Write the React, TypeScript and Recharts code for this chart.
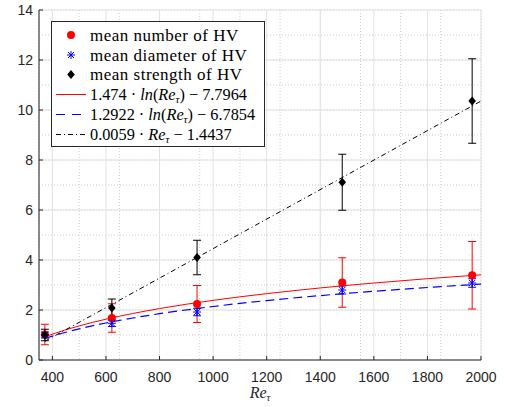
import { ComposedChart, Scatter, Line, XAxis, YAxis, CartesianGrid, ErrorBar } from 'recharts';

// Re_tau positions of the five cases
const reTau = [372, 622, 940, 1482, 1967];

// mean number of HV (+/- std)
const numberMean = [1.02, 1.68, 2.24, 3.1, 3.39];
const numberStd = [0.41, 0.57, 0.74, 0.99, 1.35];

// mean diameter of HV
const diameterMean = [1.0, 1.47, 1.92, 2.8, 3.08];
const diameterStd = [0.12, 0.13, 0.15, 0.16, 0.17];

// mean strength of HV
const strengthMean = [1.0, 2.08, 4.1, 7.11, 10.36];
const strengthStd = [0.23, 0.36, 0.69, 1.12, 1.69];

// fit curves
const fitX = [372, 450, 500, 600, 700, 800, 1000, 1200, 1400, 1600, 1800, 2000];
const fitNumber = [0.928, 1.209, 1.364, 1.633, 1.86, 2.057, 2.386, 2.654, 2.882, 3.079, 3.252, 3.407];
const fitDiameter = [0.863, 1.109, 1.245, 1.481, 1.68, 1.852, 2.141, 2.376, 2.576, 2.748, 2.9, 3.037];
const fitStrengthX = [372, 2000];
const fitStrength = [0.751, 10.356];

const xTicks = [400, 600, 800, 1000, 1200, 1400, 1600, 1800, 2000];
const yTicks = [0, 2, 4, 6, 8, 10, 12, 14];

const minorX: number[] = [];
for (let v = 350; v <= 2000; v += 50) minorX.push(v);
const minorY: number[] = [];
for (let v = 0; v <= 14; v += 0.5) minorY.push(v);

const withErr = (ys: number[], es: number[]) => reTau.map((x, i) => ({ x, y: ys[i], err: es[i] }));
const asLine = (xs: number[], ys: number[]) => xs.map((x, i) => ({ x, y: ys[i] }));

const numberPts = withErr(numberMean, numberStd);
const diameterPts = withErr(diameterMean, diameterStd);
const strengthPts = withErr(strengthMean, strengthStd);

const AXIS = '#262626';
const TICK_FONT = '"Liberation Sans", Arial, sans-serif';
const SERIF = '"Liberation Serif", "Times New Roman", serif';

const Dot = ({ cx, cy }: any) => <circle cx={cx} cy={cy} r={4} fill="#ff0000" />;
const Star = ({ cx, cy }: any) => (
  <g stroke="#0000ff" strokeWidth={1}>
    <line x1={cx - 4} y1={cy} x2={cx + 4} y2={cy} />
    <line x1={cx} y1={cy - 4} x2={cx} y2={cy + 4} />
    <line x1={cx - 3} y1={cy - 3} x2={cx + 3} y2={cy + 3} />
    <line x1={cx - 3} y1={cy + 3} x2={cx + 3} y2={cy - 3} />
  </g>
);
const Diamond = ({ cx, cy }: any) => (
  <polygon points={`${cx},${cy - 4.5} ${cx + 3.8},${cy} ${cx},${cy + 4.5} ${cx - 3.8},${cy}`} fill="#000" />
);

const XTick = ({ x, y, payload }: any) => (
  <g>
    <line x1={x} y1={y} x2={x} y2={y - 4} stroke={AXIS} />
    <text x={x} y={y + 22} textAnchor="middle" fill={AXIS} fontSize={14} fontFamily={TICK_FONT}>
      {payload.value}
    </text>
  </g>
);
const YTick = ({ x, y, payload }: any) => (
  <g>
    <line x1={x} y1={y} x2={x + 4} y2={y} stroke={AXIS} />
    <text x={x - 6} y={y + 5} textAnchor="end" fill={AXIS} fontSize={14} fontFamily={TICK_FONT}>
      {payload.value}
    </text>
  </g>
);

const txt = { fontFamily: SERIF, fontSize: 17, letterSpacing: 0.5 };
const fml = { fontFamily: SERIF, fontSize: 16.3 };

function LegendBox() {
  const rows = [35, 55, 74.5, 94.5, 114.5, 134.5];
  const tx = 90;
  return (
    <svg width={505} height={407} style={{ position: 'absolute', left: 0, top: 0, pointerEvents: 'none' }}>
      <rect x={51.5} y={21.5} width={213} height={125} fill="#fff" stroke={AXIS} strokeWidth={1} />
      <Dot cx={71} cy={rows[0]} />
      <Star cx={71} cy={rows[1]} />
      <Diamond cx={71} cy={rows[2]} />
      <line x1={56} y1={rows[3]} x2={86} y2={rows[3]} stroke="#ff0000" />
      <line x1={56} y1={rows[4]} x2={86} y2={rows[4]} stroke="#0000ff" strokeWidth={1.2} strokeDasharray="9 7" />
      <line x1={56} y1={rows[5]} x2={86} y2={rows[5]} stroke="#000" strokeDasharray="5 3 1 3" />
      <text x={tx} y={rows[0] + 5.5} style={txt}>mean number of HV</text>
      <text x={tx} y={rows[1] + 5.5} style={txt}>mean diameter of HV</text>
      <text x={tx} y={rows[2] + 5.5} style={txt}>mean strength of HV</text>
      <text x={tx} y={rows[3] + 5.5} style={fml}>
        1.474 · <tspan fontStyle="italic">ln</tspan>(<tspan fontStyle="italic">Re</tspan>
        <tspan fontStyle="italic" fontSize={11} dy={3}>τ</tspan>
        <tspan dy={-3}>) − 7.7964</tspan>
      </text>
      <text x={tx} y={rows[4] + 5.5} style={fml}>
        1.2922 · <tspan fontStyle="italic">ln</tspan>(<tspan fontStyle="italic">Re</tspan>
        <tspan fontStyle="italic" fontSize={11} dy={3}>τ</tspan>
        <tspan dy={-3}>) − 6.7854</tspan>
      </text>
      <text x={tx} y={rows[5] + 5.5} style={fml}>
        0.0059 · <tspan fontStyle="italic">Re</tspan>
        <tspan fontStyle="italic" fontSize={11} dy={3}>τ</tspan>
        <tspan dy={-3}> − 1.4437</tspan>
      </text>
      <text x={260} y={398} textAnchor="middle" style={{ fontFamily: SERIF, fontSize: 16 }} fill={AXIS}>
        <tspan fontStyle="italic">Re</tspan>
        <tspan fontStyle="italic" fontSize={10.5} dy={3}>τ</tspan>
      </text>
    </svg>
  );
}

export default function App() {
  return (
    <div style={{ position: 'absolute', left: 0, top: 0, width: 505, height: 407, background: '#fff' }}>
      <ComposedChart width={505} height={407} margin={{ top: 10, right: 24, left: 0, bottom: 0 }}>
        <CartesianGrid verticalValues={minorX} horizontalValues={minorY} stroke="#cdcdcd" strokeDasharray="1 2" />
        <CartesianGrid stroke="#e2e2e2" />
        <XAxis
          type="number"
          dataKey="x"
          domain={[350, 2000]}
          ticks={xTicks}
          allowDataOverflow
          height={47}
          tickSize={0}
          tickMargin={0}
          tick={<XTick />}
          axisLine={{ stroke: AXIS }}
        />
        <YAxis
          type="number"
          domain={[0, 14]}
          ticks={yTicks}
          allowDataOverflow
          width={39}
          tickSize={0}
          tickMargin={0}
          tick={<YTick />}
          axisLine={{ stroke: AXIS }}
        />
        <Scatter data={numberPts} dataKey="y" shape={<Dot />} isAnimationActive={false}>
          <ErrorBar dataKey="err" direction="y" width={4} stroke="#ff0000" strokeWidth={1} isAnimationActive={false} />
        </Scatter>
        <Scatter data={diameterPts} dataKey="y" shape={<Star />} isAnimationActive={false}>
          <ErrorBar dataKey="err" direction="y" width={4} stroke="#0000ff" strokeWidth={1} isAnimationActive={false} />
        </Scatter>
        <Scatter data={strengthPts} dataKey="y" shape={<Diamond />} isAnimationActive={false}>
          <ErrorBar dataKey="err" direction="y" width={4} stroke="#000" strokeWidth={1} isAnimationActive={false} />
        </Scatter>
        <Line data={asLine(fitX, fitNumber)} dataKey="y" type="monotone" stroke="#ff0000" strokeWidth={1} dot={false} isAnimationActive={false} />
        <Line data={asLine(fitX, fitDiameter)} dataKey="y" type="monotone" stroke="#0000ff" strokeWidth={1.2} strokeDasharray="9 5" dot={false} isAnimationActive={false} />
        <Line data={asLine(fitStrengthX, fitStrength)} dataKey="y" type="linear" stroke="#000" strokeWidth={1} strokeDasharray="5 3 1 3" dot={false} isAnimationActive={false} />
      </ComposedChart>
      <LegendBox />
    </div>
  );
}
